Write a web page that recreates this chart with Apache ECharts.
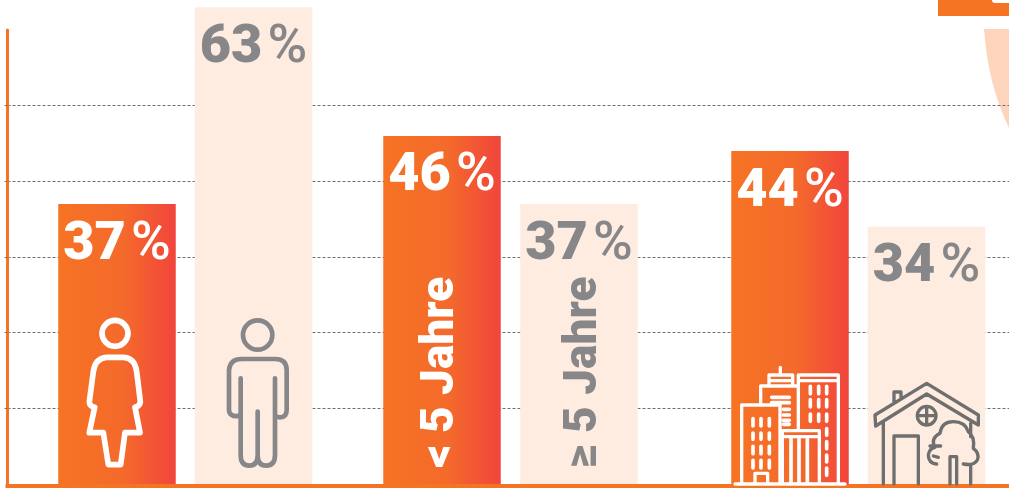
<!DOCTYPE html>
<html>
<head>
<meta charset="utf-8">
<title>Chart</title>
<script src="https://cdn.jsdelivr.net/npm/echarts@6/dist/echarts.min.js"></script>
<style>
  html, body { margin: 0; padding: 0; background: #fff; overflow: hidden; }
  #chart { width: 1009px; height: 488px; }
</style>
</head>
<body>
<div id="chart"></div>
<script>
// chart data
const genderCategories = ["Frauen", "Männer"];
const genderValues = [37, 63];
const tenureCategories = ["< 5 Jahre", "≥ 5 Jahre"];
const tenureValues = [46, 37];
const placeCategories = ["Stadt", "Land"];
const placeValues = [44, 34];
const gridTicks = [10, 20, 30, 40, 50];

const ORANGE = "#F47424";
const LIGHT = "#FEECE0";
const GREY = "#87878A";
const FONT = "Roboto";

const barGradient = {
  type: "linear", x: 0, y: 0, x2: 1, y2: 0,
  colorStops: [
    { offset: 0, color: "#F67324" },
    { offset: 0.55, color: "#F46A2B" },
    { offset: 1, color: "#F1453C" },
  ],
};

const percentLabel = (color) => ({
  show: true,
  position: "insideTop",
  distance: 12,
  formatter: (p) => `{n|${p.value}}{p|%}`,
  rich: {
    n: { fontFamily: FONT, fontWeight: 900, fontSize: 54, lineHeight: 58, color },
    p: { fontFamily: FONT, fontWeight: 500, fontSize: 54, lineHeight: 58, color, padding: [0, 0, 0, 5] },
  },
});

// one pair of bars in its own small grid
const barSeries = (values, gridIndex) => ({
  type: "bar",
  xAxisIndex: gridIndex,
  yAxisIndex: gridIndex,
  barWidth: 117.5,
  clip: false,
  silent: true,
  data: [
    { value: values[0], itemStyle: { color: barGradient }, label: percentLabel("#fff") },
    { value: values[1], itemStyle: { color: LIGHT }, label: percentLabel(GREY) },
  ],
});

// the rotated text inside the tenure bars, offset is in the text's own rotated frame
const rotatedLabel = (color, shift) => ({
  show: true,
  position: "insideBottom",
  distance: 16,
  rotate: 90,
  align: "left",
  verticalAlign: "middle",
  offset: [0, shift],
  fontFamily: FONT,
  fontWeight: 900,
  fontSize: 46,
  color,
  formatter: (p) => p.name,
});

const tenureTextSeries = {
  type: "bar",
  xAxisIndex: 2,
  yAxisIndex: 2,
  barWidth: 117.5,
  barGap: "-100%",
  clip: false,
  silent: true,
  itemStyle: { color: "transparent" },
  data: [
    { value: tenureValues[0], label: rotatedLabel("#fff", -1) },
    { value: tenureValues[1], label: rotatedLabel(GREY, 5) },
  ],
};

const hiddenY = (gridIndex) => ({ type: "value", gridIndex, min: 0, max: 60, show: false });
const hiddenX = (gridIndex, data) => ({ type: "category", gridIndex, data, show: false });

// icons are traced in 3x crop coordinates, so they get scaled down by 3
const icon = (x, y, pathData, stroke, lineWidth) => ({
  type: "path",
  x, y,
  scaleX: 1 / 3,
  scaleY: 1 / 3,
  shape: { pathData },
  style: { fill: "none", stroke, lineWidth, lineJoin: "round", lineCap: "round" },
});

const circlePath = (cx, cy, r) =>
  `M ${cx - r} ${cy} A ${r} ${r} 0 1 1 ${cx + r} ${cy} A ${r} ${r} 0 1 1 ${cx - r} ${cy} Z`;

const womanPath =
  circlePath(345, 100, 39) +
  " M 320 172 L 372 172 Q 405 175 410 215 L 421 305 Q 420 318 405 322 L 420 398 L 375 398 L 362 494 L 325 494 L 310 398 L 268 398 L 284 322 Q 268 318 268 305 L 280 215 Q 285 175 320 172 Z";

const manPath =
  circlePath(773, 105, 44) +
  " M 722 235 L 722 345 Q 705 352 695 345 Q 687 340 687 330 L 687 210 Q 690 177 725 177 L 825 177 Q 860 177 860 210 L 860 330 Q 860 352 840 352 Q 830 352 825 345 L 825 235" +
  " M 722 345 L 722 465 Q 722 497 748 497 Q 773 497 773 465 L 773 335 M 773 465 Q 773 497 798 497 Q 825 497 825 465 L 825 345";

const buildingOutlines =
  "M 65 430 L 65 195 L 180 195 L 180 430 M 187 430 L 187 272 L 298 272 L 298 430 M 187 290 L 298 290" +
  " M 122 195 L 122 138 L 235 138 M 147 138 L 147 105 L 218 105 L 218 138 M 147 122 L 218 122 M 181 105 L 181 82" +
  " M 235 272 L 235 105 L 355 105 L 355 430 M 240 122 L 355 122 M 45 432 L 375 432 M 105 430 L 105 400 L 143 400 L 143 430";

const buildingWindows =
  "M 99 236 L 99 258 M 123 236 L 123 258 M 148 236 L 148 258 M 99 279 L 99 298 M 123 279 L 123 298 M 148 279 L 148 298" +
  " M 99 319 L 99 341 M 123 319 L 123 341 M 148 319 L 148 341 M 99 361 L 99 384 M 123 361 L 123 384 M 148 361 L 148 384" +
  " M 271 139 L 271 161 M 296 139 L 296 161 M 320 139 L 320 161 M 271 179 L 271 201 M 296 179 L 296 201 M 320 179 L 320 201" +
  " M 271 222 L 271 244 M 296 222 L 296 244 M 320 222 L 320 244 M 320 266 L 320 286 M 320 305 L 320 326 M 320 345 L 320 366 M 320 384 L 320 406" +
  " M 155 172 L 208 172 M 155 188 L 208 188 M 190 208 L 208 208 M 190 225 L 208 225 M 190 241 L 208 241 M 190 253 L 208 253" +
  " M 213 296 L 213 430 M 237 296 L 237 430 M 262 296 L 262 430";

const housePath =
  "M 465 225 L 620 130 L 775 225 L 775 255 L 620 162 L 467 258 Z M 522 188 L 522 156 L 543 156 L 543 172" +
  " M 490 245 L 490 432 M 522 432 L 522 288 L 595 288 L 595 432 " +
  circlePath(620, 227, 28) +
  " M 592 227 L 648 227 M 620 199 L 620 255" +
  " M 650 372 Q 625 370 625 345 Q 628 325 645 322 Q 630 295 660 280 Q 665 245 700 245 Q 735 245 745 275 Q 765 290 760 325 Q 780 340 772 360 Q 762 378 730 372" +
  " M 690 432 L 690 350 L 710 350 L 710 432 M 752 250 L 752 290 M 752 375 L 752 432 M 630 318 L 662 318 M 640 348 L 655 352";

// icons and the peach corner are drawn by custom series, graphic has no path type
const iconSeries = {
  type: "custom",
  coordinateSystem: "none",
  silent: true,
  z: 5,
  data: [0],
  renderItem: () => ({
    type: "group",
    children: [
      icon(0, 300, womanPath, "#fff", 17),
      icon(0, 300, manPath, GREY, 14),
      icon(720, 340, buildingOutlines, "#fff", 10),
      icon(720, 340, buildingWindows, "#fff", 11),
      icon(720, 340, housePath, "#6F6F6F", 10),
    ],
  }),
};

const cornerSeries = {
  type: "custom",
  coordinateSystem: "none",
  silent: true,
  z: -1,
  data: [0],
  renderItem: () => ({
    type: "path",
    shape: { pathData: "M 984 29 L 1009 29 L 1009 128 Q 988 85 984 29 Z" },
    style: { fill: "#FDD5BC" },
  }),
};

const option = {
  animation: false,
  backgroundColor: "#fff",
  // grid 0 holds the frame, the other three hold one pair of bars each
  grid: [
    { left: 7.5, right: 0, top: 30, bottom: 4 },
    { left: 48.75, width: 273, top: 30, bottom: 4 },
    { left: 373.5, width: 274, top: 30, bottom: 4 },
    { left: 721.75, width: 273, top: 30, bottom: 4 },
  ],
  xAxis: [
    {
      type: "category",
      gridIndex: 0,
      data: [""],
      offset: 2,
      axisLine: { onZero: false, lineStyle: { color: ORANGE, width: 4, cap: "square" } },
      axisTick: { show: false },
      axisLabel: { show: false },
    },
    hiddenX(1, genderCategories),
    hiddenX(2, tenureCategories),
    hiddenX(3, placeCategories),
  ],
  yAxis: [
    {
      type: "value",
      gridIndex: 0,
      min: 0,
      max: 60,
      interval: 10,
      axisLine: { show: true, lineStyle: { color: ORANGE, width: 3 } },
      axisTick: {
        show: true,
        length: 3,
        customValues: gridTicks,
        lineStyle: { color: "#777", width: 1 },
      },
      axisLabel: { show: false },
      // the ticks are only gridTicks, so the first and last line here are 10 and 50
      splitLine: {
        show: true,
        lineStyle: { color: "#6F6F6F", width: 1, type: [3, 2] },
      },
    },
    hiddenY(1),
    hiddenY(2),
    hiddenY(3),
  ],
  series: [
    cornerSeries,
    barSeries(genderValues, 1),
    barSeries(tenureValues, 2),
    tenureTextSeries,
    barSeries(placeValues, 3),
    iconSeries,
  ],
  graphic: [
    // bit of the neighbouring panel that shows at the top right corner
    { type: "rect", z: 1, silent: true, shape: { x: 938, y: 0, width: 71, height: 16 }, style: { fill: ORANGE } },
    { type: "rect", z: 2, silent: true, shape: { x: 992, y: -6, width: 30, height: 9, r: 3 }, style: { fill: "#fff" } },
  ],
};

const chart = echarts.init(document.getElementById("chart"));
chart.setOption(option);
</script>
</body>
</html>
